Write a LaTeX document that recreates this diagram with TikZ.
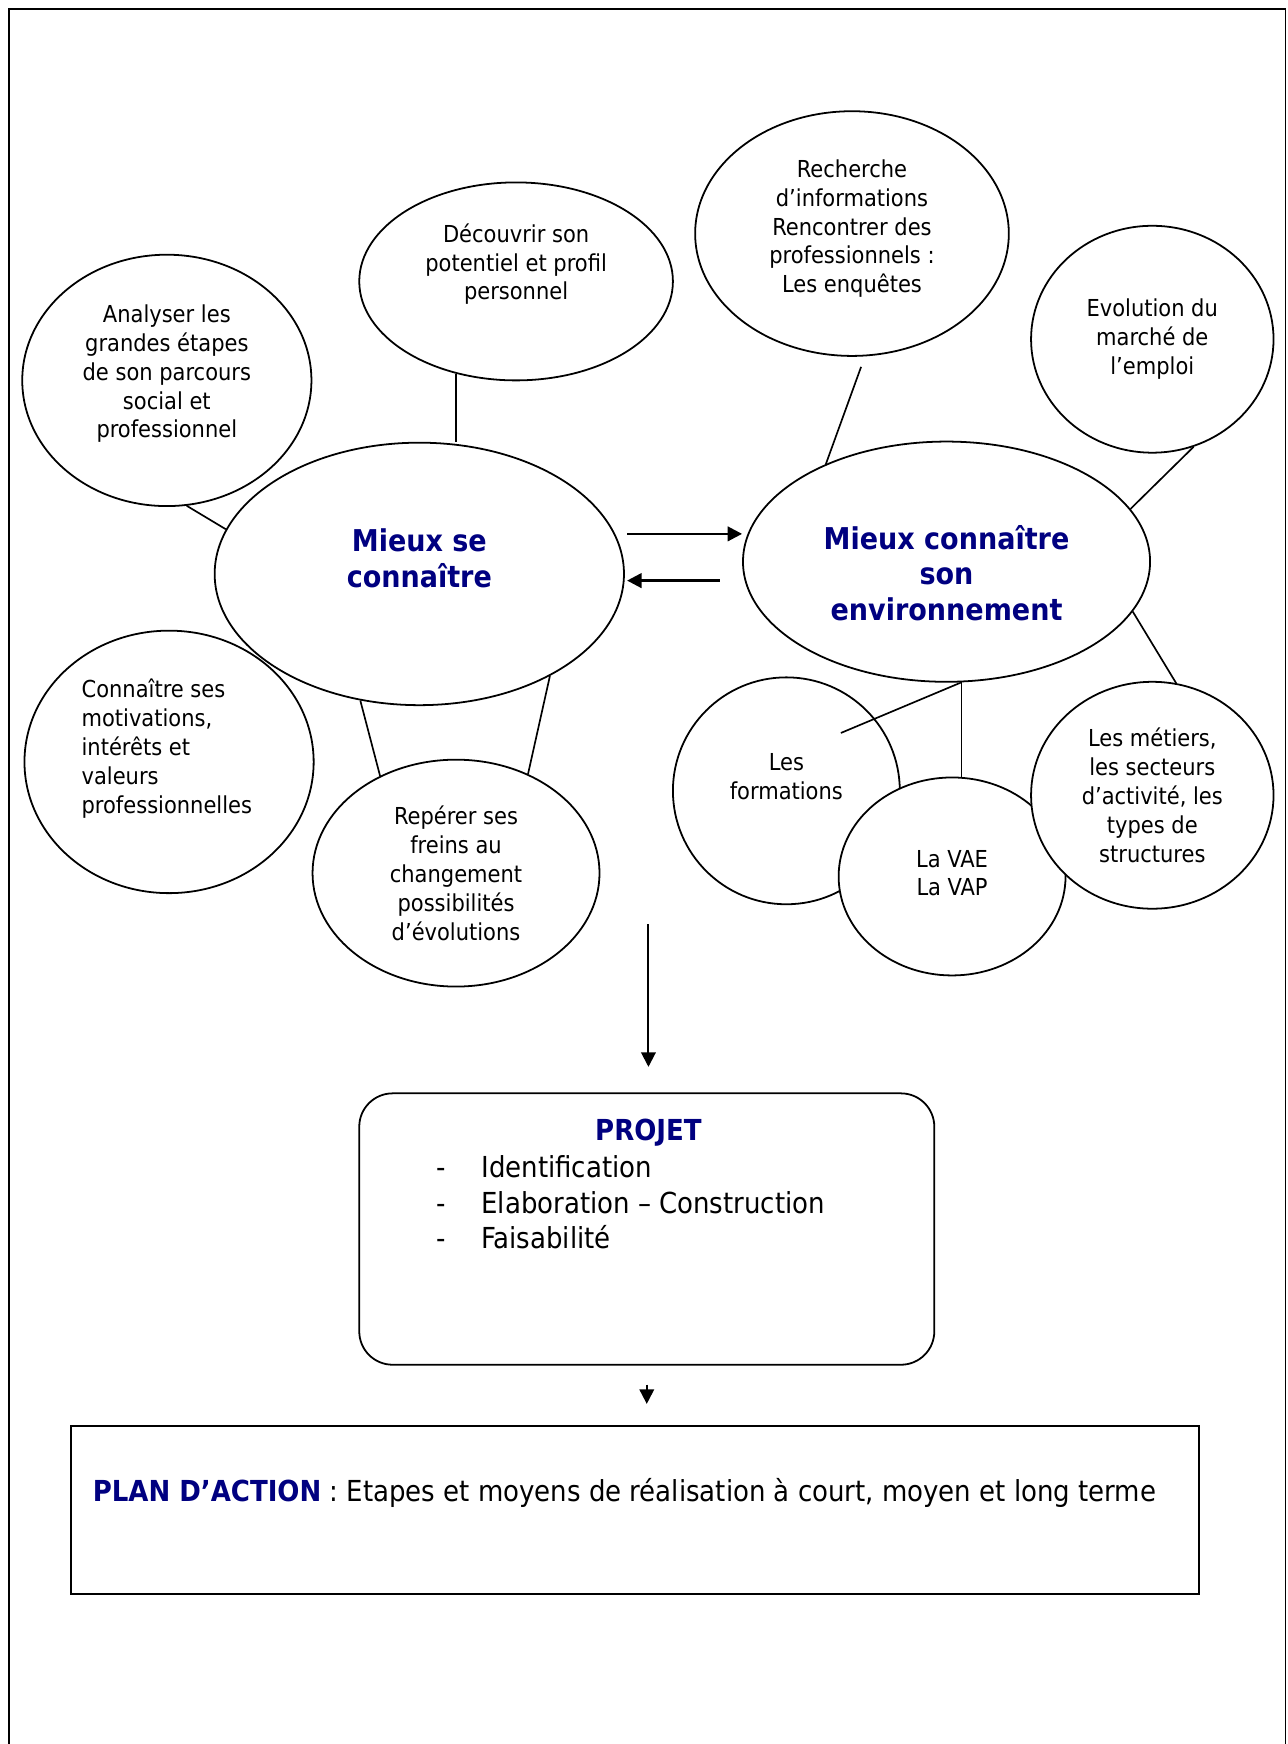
\documentclass[tikz,border=0pt]{standalone}
\usepackage{fontspec}
\setmainfont{DejaVu Sans Condensed}
\usepackage{xcolor}
\usepackage{tikz}
\usetikzlibrary{shapes.geometric, arrows.meta, positioning, calc}
\definecolor{navyblue}{RGB}{0, 0, 128}

\begin{document}
\begin{tikzpicture}[x=0.5pt, y=-0.5pt,
    bubble/.style={ellipse, draw, line width=0.8pt, fill=white, inner sep=0pt},
    txt/.style={align=center, inner sep=0pt, font=\fontsize{10.5}{13}\selectfont},
    coretxt/.style={txt, text=navyblue, font=\fontsize{13.5}{16}\selectfont\bfseries},
    link/.style={line width=0.75pt},
    flow/.style={line width=0.9pt, -{Triangle[length=6.5pt, width=6.5pt]}},
    swap/.style={flow, line width=1.2pt}
]
    \useasboundingbox (0,0) rectangle (1158,1568);
    \draw[line width=0.6pt] (8,1568) -- (8,8) -- (1156,8) -- (1156,1568);

    % satellites
    \node[bubble, minimum width=130pt, minimum height=113pt,
        label={[txt, yshift=3pt]center:{Analyser les\\grandes étapes\\de son parcours\\social et\\professionnel}}] (ana) at (150,342) {};
    \node[bubble, minimum width=141pt, minimum height=89pt,
        label={[txt, yshift=7.75pt]center:{Découvrir son\\potentiel et profil\\personnel}}] (dec) at (464,253) {};
    \node[bubble, minimum width=141pt, minimum height=110pt,
        label={[txt, yshift=2.25pt]center:{Recherche\\d’informations\\Rencontrer des\\professionnels :\\Les enquêtes}}] (rech) at (766,210) {};
    \node[bubble, minimum width=109pt, minimum height=102pt,
        label={[txt]center:{Evolution du\\marché de\\l’emploi}}] (evo) at (1036,305) {};
    \node[bubble, minimum width=130pt, minimum height=118pt,
        label={[txt, align=left, yshift=6pt, xshift=-1pt]center:{Connaître ses\\motivations,\\intérêts et\\valeurs\\professionnelles}}] (mot) at (152,685) {};

    % the two cores
    \node[bubble, minimum width=184pt, minimum height=118pt,
        label={[coretxt, yshift=7pt]center:{Mieux se\\connaître}}] (mse) at (377,516) {};
    \node[bubble, minimum width=183pt, minimum height=108pt,
        label={[coretxt, yshift=-5pt]center:{Mieux connaître\\son\\environnement}}] (env) at (851,505) {};

    \node[bubble, minimum width=129pt, minimum height=102pt,
        label={[txt]center:{Repérer ses\\freins au\\changement\\possibilités\\d’évolutions}}] (rep) at (410,785) {};
    \node[bubble, minimum width=102pt, minimum height=102pt,
        label={[txt, yshift=6.5pt]center:{Les\\formations}}] (form) at (707,711) {};
    \node[bubble, minimum width=102pt, minimum height=89pt,
        label={[txt, yshift=1.5pt]center:{La VAE\\La VAP}}] (vae) at (856,788) {};
    \node[bubble, minimum width=109pt, minimum height=102pt,
        label={[txt]center:{Les métiers,\\les secteurs\\d’activité, les\\types de\\structures}}] (met) at (1036,715) {};

    % spokes
    \draw[link] (ana.-81) -- (mse.167);
    \draw[link] (dec.-123) -- (dec.-123 |- mse.north);
    \draw[link, shorten <=5pt] (rech.-84) -- (env.141);
    \draw[link] (evo.-69) -- (env.16);
    \draw[link] (env.-15) -- (met.78);
    \coordinate (formend) at (756,659);
    \draw[link] (env.-83) -- (formend);
    \draw[link] (env.-83) -- (env.-83 |- vae.north);
    \draw[link] (mse.-115) -- (rep.128);
    \draw[link] (mse.-38) -- (rep.54);

    \draw[swap] ($(mse.east)+(2,-36)$) -- ($(env.west)+(0,-25)$);
    \draw[swap] ($(env.west)+(-20,17)$) -- ($(mse.east)+(2,6)$);

    % project and plan
    \node[rectangle, draw, line width=0.8pt, rounded corners=15pt, minimum width=258.5pt, minimum height=122pt] (proj) at (581.5,1105) {};
    \node[txt, text=navyblue, font=\fontsize{13}{16}\selectfont\bfseries] (projtitle) at (583,1018) {PROJET};
    \node[anchor=north west, inner sep=0pt, font=\fontsize{13}{16}\selectfont] (projlist) at (392,1036) {%
        \begin{tabular}{@{}l@{\hspace{16pt}}l@{}}
        - & Identification\\
        - & Elaboration – Construction\\
        - & Faisabilité
        \end{tabular}};
    \coordinate (fork) at (583,831);
    \draw[flow, shorten >=11.5pt] (fork) -- (fork |- proj.north);

    \node[rectangle, draw, line width=0.8pt, minimum width=507pt, minimum height=75.5pt] (plan) at (571,1357.5) {};
    \node[anchor=west, inner sep=0pt, font=\fontsize{13}{16}\selectfont] (plantext) at (83,1342)
        {\textcolor{navyblue}{\textbf{PLAN D’ACTION}} : Etapes et moyens de réalisation à court, moyen et long terme};
    \draw[flow] ([yshift=-8.5pt]proj.south) -- ([yshift=9.5pt]proj.south |- plan.north);
\end{tikzpicture}
\end{document}
